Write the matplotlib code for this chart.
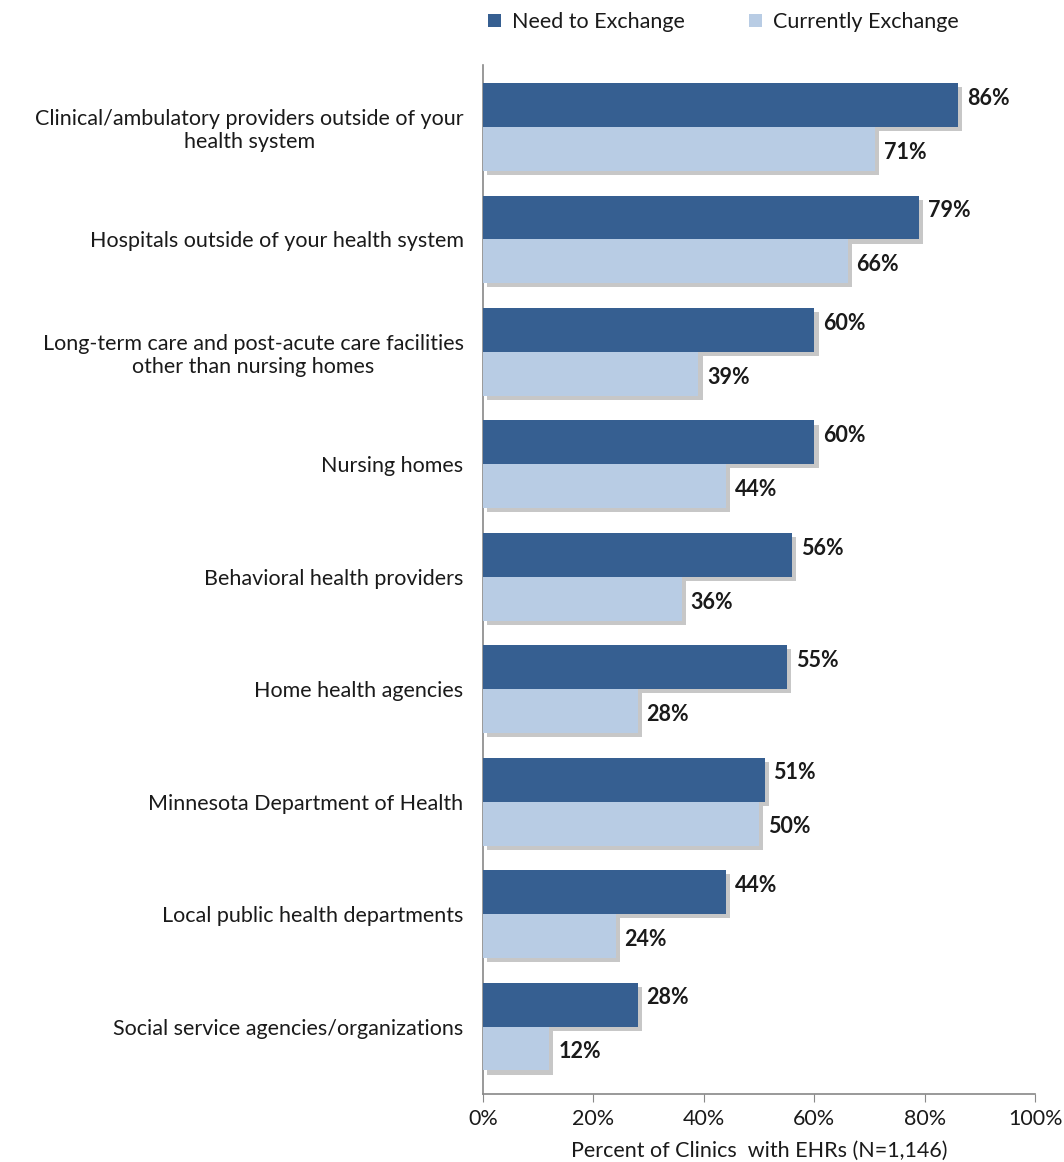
import matplotlib
matplotlib.use("Agg")
import matplotlib.pyplot as plt
import matplotlib.patheffects as pe
from matplotlib.patches import Patch
import numpy as np

categories = [
    "Clinical/ambulatory providers outside of your\nhealth system",
    "Hospitals outside of your health system",
    "Long-term care and post-acute care facilities\nother than nursing homes",
    "Nursing homes",
    "Behavioral health providers",
    "Home health agencies",
    "Minnesota Department of Health",
    "Local public health departments",
    "Social service agencies/organizations",
]
need = [86, 79, 60, 60, 56, 55, 51, 44, 28]
current = [71, 66, 39, 44, 36, 28, 50, 24, 12]
series_names = ["Need to Exchange", "Currently Exchange"]
xticks = [0, 20, 40, 60, 80, 100]
xlabel = "Percent of Clinics  with EHRs (N=1,146)"

dark = "#365F91"
light = "#B8CCE4"

plt.rcParams['font.family'] = ['Lato', 'DejaVu Sans']

fig = plt.figure(figsize=(10.64, 11.62), dpi=100)
ax = fig.add_axes([0.454, 0.0585, 0.519, 0.8855])

y = np.arange(len(categories))
h = 0.39
shadow = [pe.SimplePatchShadow(offset=(3, -3), shadow_rgbFace="#9a9a9a", alpha=0.55), pe.Normal()]
ax.barh(y - h/2, need, height=h, color=dark, path_effects=shadow, zorder=3)
ax.barh(y + h/2, current, height=h, color=light, path_effects=shadow, zorder=3)

for yi, v in zip(y - h/2, need):
    ax.text(v + 1.6, yi - 0.06, f"{v}%", va="center", ha="left", fontsize=15.5, fontweight="bold", color="#1a1a1a")
for yi, v in zip(y + h/2, current):
    ax.text(v + 1.6, yi + 0.03, f"{v}%", va="center", ha="left", fontsize=15.5, fontweight="bold", color="#1a1a1a")

ax.set_ylim(8.6, -0.55)
ax.set_xlim(0, 100)
ax.set_yticks(y)
ax.set_yticklabels(categories, fontsize=15.5, multialignment="center", color="#1a1a1a")
ax.tick_params(axis="y", length=0, pad=14)
ax.set_xticks(xticks)
ax.set_xticklabels([f"{t}%" for t in xticks], fontsize=15.5, color="#1a1a1a")
ax.tick_params(axis="x", direction="out", length=6, color="#888888", pad=5)
for s in ["top", "right"]:
    ax.spines[s].set_visible(False)
for s in ["left", "bottom"]:
    ax.spines[s].set_color("#888888")
    ax.spines[s].set_linewidth(1.2)
ax.set_xlabel(xlabel, fontsize=15.5, labelpad=8, color="#1a1a1a")

handles = [Patch(facecolor=dark), Patch(facecolor=light)]
fig.legend(handles=handles, labels=series_names, loc="center", bbox_to_anchor=(0.68, 0.981),
           ncol=2, frameon=False, fontsize=15.5, handlelength=0.6, handleheight=0.6,
           handletextpad=0.5, columnspacing=3.0, labelcolor="#1a1a1a")

fig.savefig("out.png", dpi=100, facecolor="white")
